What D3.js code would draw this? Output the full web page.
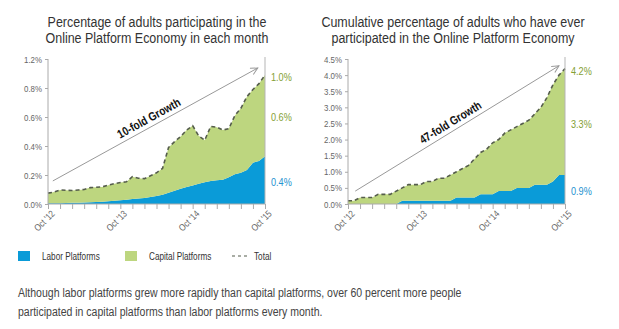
<!DOCTYPE html>
<html>
<head>
<meta charset="utf-8">
<script src="https://cdn.jsdelivr.net/npm/d3@7"></script>
<style>
	body { margin: 0; background: #fff; }
	svg { display: block; font-family: "Liberation Sans", Arial, sans-serif; }
</style>
</head>
<body>
<svg id="chart" width="619" height="329"></svg>
<script>
// months run Oct '12 .. Oct '15 (index 0..36)
var xTickLabels = ["Oct '12", "Oct '13", "Oct '14", "Oct '15"];

// Percentage in each month
var monthlyLabor = [0.005, 0.006, 0.006, 0.007, 0.008, 0.009, 0.010, 0.012, 0.014, 0.016, 0.019, 0.022,
	0.026, 0.030, 0.034, 0.038, 0.042, 0.048, 0.056, 0.064, 0.078, 0.092, 0.105, 0.118,
	0.128, 0.140, 0.150, 0.158, 0.163, 0.168, 0.185, 0.205, 0.215, 0.235, 0.285, 0.297, 0.330];
var monthlyCapital = [0.070, 0.076, 0.091, 0.088, 0.085, 0.088, 0.090, 0.101, 0.101, 0.102, 0.111, 0.118,
	0.122, 0.123, 0.154, 0.140, 0.133, 0.147, 0.159, 0.181, 0.312, 0.338, 0.360, 0.392,
	0.412, 0.330, 0.290, 0.377, 0.367, 0.342, 0.335, 0.405, 0.445, 0.505, 0.505, 0.533, 0.560];
var monthlyTicks = [0, 0.2, 0.4, 0.6, 0.8, 1.0];
var monthlyTickLabels = ["0.0%", "0.2%", "0.4%", "0.6%", "0.8%", "1.2%"];
var monthlyEndLabels = ["1.0%", "0.6%", "0.4%"]; // total, capital, labor
var monthlyArrow = [[0.8, 0.159], [34.8, 0.938]]; // [month index, value]

// Cumulative percentage
var cumulativeLabor = [0, 0, 0, 0, 0, 0, 0, 0, 0, 0.1, 0.1, 0.1,
	0.1, 0.1, 0.1, 0.1, 0.1, 0.1, 0.2, 0.2, 0.2, 0.2, 0.3, 0.3,
	0.3, 0.4, 0.4, 0.4, 0.5, 0.5, 0.5, 0.6, 0.6, 0.6, 0.7, 0.9, 0.9];
var cumulativeCapital = [0.1, 0.1, 0.2, 0.2, 0.2, 0.3, 0.3, 0.3, 0.4, 0.4, 0.5, 0.5,
	0.5, 0.6, 0.6, 0.7, 0.7, 0.8, 0.8, 0.9, 1.0, 1.2, 1.3, 1.4,
	1.6, 1.6, 1.8, 1.9, 1.9, 2.0, 2.1, 2.2, 2.4, 2.7, 3.0, 3.1, 3.3];
var cumulativeTicks = [0, 0.5, 1.0, 1.5, 2.0, 2.5, 3.0, 3.5, 4.0, 4.5];
var cumulativeTickLabels = ["0.0%", "0.5%", "1.0%", "1.5%", "2.0%", "2.5%", "3.0%", "3.5%", "4.0%", "4.5%"];
var cumulativeEndLabels = ["4.2%", "3.3%", "0.9%"];
var cumulativeArrow = [[1.2, 0.40], [35.0, 4.29]];

var colors = { labor: "#0a9bd8", capital: "#bdd67f", total: "#555d4c", laborText: "#2592cf", capitalText: "#84a034" };

// the original typeface is a narrow one, squeeze Liberation Sans to match
var narrow = 0.83;

var svg = d3.select("#chart");

function place(x, y, rot, sx) {
	return "translate(" + x + "," + y + ")" + (rot ? " rotate(" + rot + ")" : "") + " scale(" + (sx || narrow) + ",1)";
}

svg.append("defs").append("marker")
	.attr("id", "arrowhead")
	.attr("markerUnits", "userSpaceOnUse")
	.attr("markerWidth", 10)
	.attr("markerHeight", 10)
	.attr("refX", 8)
	.attr("refY", 4)
	.attr("orient", "auto")
	.append("path")
	.attr("d", "M1,0.5 L8,4 L1,7.5")
	.style("fill", "none")
	.style("stroke", "#999")
	.style("stroke-width", 1);

function drawPanel(opt) {
	var g = svg.append("g");
	var n = opt.labor.length;

	var x = d3.scaleLinear().domain([0, n - 1]).range([opt.left, opt.right]);
	var y = d3.scaleLinear().domain([0, opt.ticks[opt.ticks.length - 1]]).range([204, 59]);

	var table = opt.labor.map(function(d, i) {
		return { i: i, labor: d, capital: opt.capital[i] };
	});
	// labor sits at the bottom
	var series = d3.stack().keys(["labor", "capital"])(table);

	var area = d3.area()
		.x(function(d) { return x(d.data.i); })
		.y0(function(d) { return y(d[0]); })
		.y1(function(d) { return y(d[1]); });

	g.selectAll("path.layer")
		.data(series)
		.enter()
		.append("path")
		.classed("layer", true)
		.attr("d", area)
		.style("fill", function(d) { return colors[d.key]; });

	var line = d3.line()
		.x(function(d) { return x(d.data.i); })
		.y(function(d) { return y(d[1]); });

	g.append("path")
		.attr("d", line(series[1]))
		.style("fill", "none")
		.style("stroke", colors.total)
		.style("stroke-width", 1.6)
		.style("stroke-dasharray", "4,3");

	// right border
	g.append("line")
		.attr("x1", opt.right).attr("x2", opt.right)
		.attr("y1", 57).attr("y2", 204)
		.style("stroke", "#b5b5b5");

	// y axis
	var yAxis = g.append("g")
		.attr("transform", "translate(" + opt.left + ",0)")
		.call(d3.axisLeft(y)
			.tickValues(opt.ticks)
			.tickSize(3)
			.tickPadding(3)
			.tickFormat(function(d, i) { return opt.tickLabels[i]; }));
	yAxis.select(".domain").attr("d", "M0," + y(opt.ticks[opt.ticks.length - 1]) + "V204").style("stroke", "#aaa");
	yAxis.selectAll(".tick line").style("stroke", "#aaa");
	yAxis.selectAll("text")
		.attr("x", null)
		.attr("transform", place(-6, 0))
		.style("fill", "#666")
		.style("font-size", "9.5px")
		.style("font-family", "inherit");

	// x axis
	var xAxis = g.append("g")
		.attr("transform", "translate(0,204)")
		.call(d3.axisBottom(x)
			.tickValues(d3.range(0, n, 2))
			.tickSize(5)
			.tickFormat(""));
	xAxis.select(".domain").attr("d", "M" + opt.left + ",0H" + opt.right).style("stroke", "#aaa");
	xAxis.selectAll(".tick line").style("stroke", "#aaa");

	g.selectAll("text.xlab")
		.data(xTickLabels)
		.enter()
		.append("text")
		.classed("xlab", true)
		.attr("transform", function(d, i) { return place(x(i * 12) + 5, 212, -45); })
		.attr("text-anchor", "end")
		.attr("dy", "0.35em")
		.style("font-size", "9.5px")
		.style("fill", "#666")
		.text(function(d) { return d; });

	// end labels
	var last = n - 1;
	var total = opt.labor[last] + opt.capital[last];
	var endPos = [
		{ y: y(total), color: colors.capitalText },
		{ y: y(opt.labor[last] + opt.capital[last] / 2), color: colors.capitalText },
		{ y: y(opt.labor[last] / 2), color: colors.laborText }
	];
	g.selectAll("text.endlab")
		.data(opt.endLabels)
		.enter()
		.append("text")
		.classed("endlab", true)
		.attr("transform", function(d, i) { return place(opt.right + 6, endPos[i].y + 2); })
		.attr("dy", "0.35em")
		.style("font-size", "11px")
		.style("fill", function(d, i) { return endPos[i].color; })
		.text(function(d) { return d; });

	// growth arrow
	var a0 = [x(opt.arrow[0][0]), y(opt.arrow[0][1])];
	var a1 = [x(opt.arrow[1][0]), y(opt.arrow[1][1])];
	g.append("line")
		.attr("x1", a0[0]).attr("y1", a0[1])
		.attr("x2", a1[0]).attr("y2", a1[1])
		.attr("marker-end", "url(#arrowhead)")
		.style("stroke", "#999")
		.style("stroke-width", 1);

	var angle = Math.atan2(a1[1] - a0[1], a1[0] - a0[0]) * 180 / Math.PI;
	g.append("text")
		.attr("transform", place((a0[0] + a1[0]) / 2 - 3, (a0[1] + a1[1]) / 2, angle))
		.attr("text-anchor", "middle")
		.attr("dy", "-3")
		.style("font-size", "12px")
		.style("font-weight", "bold")
		.style("fill", "#111")
		.text(opt.arrowText);

	// title
	g.selectAll("text.title")
		.data(opt.title)
		.enter()
		.append("text")
		.classed("title", true)
		.attr("transform", function(d, i) { return place(opt.titleX, 27 + i * 16, 0, 0.89); })
		.attr("text-anchor", "middle")
		.style("font-size", "14px")
		.style("fill", "#333")
		.text(function(d) { return d; });
}

drawPanel({
	left: 48, right: 265, titleX: 157,
	labor: monthlyLabor, capital: monthlyCapital,
	ticks: monthlyTicks, tickLabels: monthlyTickLabels,
	endLabels: monthlyEndLabels, arrow: monthlyArrow, arrowText: "10-fold Growth",
	title: ["Percentage of adults participating in the", "Online Platform Economy in each month"]
});

drawPanel({
	left: 348, right: 565, titleX: 453,
	labor: cumulativeLabor, capital: cumulativeCapital,
	ticks: cumulativeTicks, tickLabels: cumulativeTickLabels,
	endLabels: cumulativeEndLabels, arrow: cumulativeArrow, arrowText: "47-fold Growth",
	title: ["Cumulative percentage of adults who have ever", "participated in the Online Platform Economy"]
});

// legend
var legendItems = ["Labor Platforms", "Capital Platforms", "Total"];
var legendKeys = ["labor", "capital", "total"];
var legendX = [18, 125, 232];
var legend = svg.append("g").attr("transform", "translate(0,256)");
var item = legend.selectAll("g")
	.data(legendItems)
	.enter()
	.append("g")
	.attr("transform", function(d, i) { return "translate(" + legendX[i] + ",0)"; });
item.filter(function(d, i) { return legendKeys[i] != "total"; })
	.append("rect")
	.attr("y", -5).attr("width", 12).attr("height", 10)
	.style("fill", function(d, i) { return colors[legendKeys[i]]; });
item.filter(function(d, i) { return legendKeys[i] == "total"; })
	.append("line")
	.attr("x1", 0).attr("x2", 15)
	.style("stroke", colors.total)
	.style("stroke-width", 1.2)
	.style("stroke-dasharray", "3,3");
item.append("text")
	.attr("transform", function(d, i) { return place(legendKeys[i] == "total" ? 22 : 24, 0, 0, 0.82); })
	.attr("dy", "0.35em")
	.style("font-size", "10px")
	.style("fill", "#333")
	.text(function(d) { return d; });

// caption
var caption = ["Although labor platforms grew more rapidly than capital platforms, over 60 percent more people",
	"participated in capital platforms than labor platforms every month."];
svg.selectAll("text.caption")
	.data(caption)
	.enter()
	.append("text")
	.classed("caption", true)
	.attr("transform", function(d, i) { return place(18, 297 + i * 19, 0, 0.855); })
	.style("font-size", "12.3px")
	.style("fill", "#444")
	.text(function(d) { return d; });
</script>
</body>
</html>
